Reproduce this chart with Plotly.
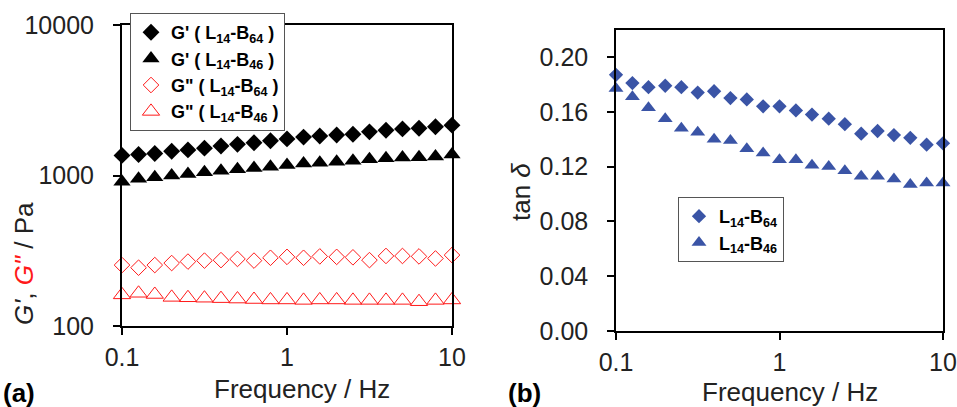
import plotly.graph_objects as go

# ---------------- data ----------------
freq = [0.1, 0.126, 0.158, 0.2, 0.251, 0.316, 0.398, 0.501, 0.631, 0.794, 1.0,
        1.26, 1.58, 2.0, 2.51, 3.16, 3.98, 5.01, 6.31, 7.94, 10.0]

gp_b64 = [1360, 1380, 1400, 1450, 1480, 1520, 1570, 1610, 1650, 1700, 1750,
          1800, 1830, 1860, 1880, 1950, 2000, 2040, 2060, 2110, 2160]
gp_b46 = [910, 950, 975, 1000, 1025, 1050, 1075, 1100, 1120, 1145, 1175,
          1200, 1215, 1235, 1255, 1280, 1300, 1315, 1320, 1335, 1380]
gpp_b64 = [254, 244, 254, 262, 268, 272, 274, 279, 272, 284, 288,
           284, 290, 288, 286, 274, 292, 292, 290, 281, 296]
gpp_b46 = [161, 165, 162, 155, 154, 153, 152, 151, 150, 149, 149,
           148, 149, 149, 148, 148, 148, 148, 145, 148, 149]

tan_b64 = [0.187, 0.181, 0.178, 0.179, 0.178, 0.174, 0.175, 0.170, 0.169, 0.164, 0.164,
           0.161, 0.158, 0.155, 0.151, 0.144, 0.146, 0.143, 0.141, 0.136, 0.137]
tan_b46 = [0.177, 0.171, 0.163, 0.155, 0.148, 0.145, 0.140, 0.139, 0.133, 0.130, 0.125,
           0.125, 0.121, 0.120, 0.117, 0.113, 0.113, 0.111, 0.107, 0.108, 0.108]

x_major = [0.1, 1, 10]
x_labels = ["0.1", "1", "10"]
x_minor = [0.1, 0.2, 0.3, 0.4, 0.5, 0.6, 0.7, 0.8, 0.9, 1, 2, 3, 4, 5, 6, 7, 8, 9, 10]
g_major = [100, 1000, 10000]
g_labels = ["100", "1000", "10000"]
g_minor = [100, 200, 300, 400, 500, 600, 700, 800, 900, 1000, 2000, 3000, 4000,
           5000, 6000, 7000, 8000, 9000, 10000]
t_major = [0.0, 0.04, 0.08, 0.12, 0.16, 0.20]
t_labels = ["0.00", "0.04", "0.08", "0.12", "0.16", "0.20"]
t_minor = [round(i * 0.008, 3) for i in range(28)]

# ---------------- layout helpers ----------------
W, H = 957, 407
def px(x):
    return x / W
def py(y):
    return 1 - y / H

FONT = "Liberation Sans, Arial, sans-serif"
RED = "#ff1a1a"
BLUE = "#3a54a6"

fig = go.Figure()

def lab(a, b):
    return a + " ( L<sub>14</sub>-B<sub>" + b + "</sub> )"

fig.add_trace(go.Scatter(x=freq, y=gp_b64, mode="markers", name=lab("G'", "64"),
                         marker=dict(symbol="diamond", size=13, color="black"),
                         xaxis="x", yaxis="y", legend="legend", cliponaxis=False))
fig.add_trace(go.Scatter(x=freq, y=gp_b46, mode="markers", name=lab("G'", "46"),
                         marker=dict(symbol="triangle-up", size=15, color="black"),
                         xaxis="x", yaxis="y", legend="legend", cliponaxis=False))
fig.add_trace(go.Scatter(x=freq, y=gpp_b64, mode="markers", name=lab('G"', "64"),
                         marker=dict(symbol="diamond-open", size=12, color=RED,
                                     line=dict(width=1, color=RED)),
                         xaxis="x", yaxis="y", legend="legend", cliponaxis=False))
fig.add_trace(go.Scatter(x=freq, y=gpp_b46, mode="markers", name=lab('G"', "46"),
                         marker=dict(symbol="triangle-up-open", size=15, color=RED,
                                     line=dict(width=1, color=RED)),
                         xaxis="x", yaxis="y", legend="legend", cliponaxis=False))

fig.add_trace(go.Scatter(x=freq, y=tan_b64, mode="markers",
                         name="L<sub>14</sub>-B<sub>64</sub>",
                         marker=dict(symbol="diamond", size=11, color=BLUE),
                         xaxis="x2", yaxis="y2", legend="legend2", cliponaxis=False))
fig.add_trace(go.Scatter(x=freq, y=tan_b46, mode="markers",
                         name="L<sub>14</sub>-B<sub>46</sub>",
                         marker=dict(symbol="triangle-up", size=13, color=BLUE),
                         xaxis="x2", yaxis="y2", legend="legend2", cliponaxis=False))

tickfont = dict(family=FONT, size=25, color="#222")

def main_axis(**kw):
    d = dict(showline=True, linecolor="black", linewidth=2, mirror=True,
             ticks="outside", ticklen=7, tickwidth=1.5, tickcolor="black",
             showgrid=False, zeroline=False, tickfont=tickfont,
             ticklabelstandoff=1, automargin=False)
    d.update(kw)
    return d

def inner_axis(**kw):
    d = dict(showline=False, ticks="inside", ticklen=6, tickwidth=1.5,
             tickcolor="black", showgrid=False, zeroline=False,
             showticklabels=False, tickmode="array", automargin=False)
    d.update(kw)
    return d

legend_font = dict(family=FONT, size=18, color="black", weight="bold")

fig.update_layout(
    width=W, height=H,
    margin=dict(l=0, r=0, t=0, b=0, autoexpand=False),
    paper_bgcolor="white", plot_bgcolor="white",
    font=dict(family=FONT, color="black"),
    xaxis=main_axis(domain=[px(122), px(452)], type="log", range=[-1, 1], anchor="y",
                    tickmode="array", tickvals=x_major, ticktext=x_labels),
    yaxis=main_axis(domain=[py(326), py(25)], type="log", range=[2, 4], anchor="x",
                    tickmode="array", tickvals=g_major, ticktext=g_labels,
                    ticklabelstandoff=14),
    xaxis2=main_axis(domain=[px(616), px(943)], type="log", range=[-1, 1], anchor="y2",
                     tickmode="array", tickvals=x_major, ticktext=x_labels, linewidth=1.5),
    yaxis2=main_axis(domain=[py(331), py(29.6)], range=[0, 0.22], anchor="x2",
                     tickmode="array", tickvals=t_major, ticktext=t_labels,
                     linewidth=1.5, ticklabelstandoff=14),
    xaxis3=inner_axis(overlaying="x", anchor="y", type="log", range=[-1, 1],
                      tickvals=x_minor),
    yaxis3=inner_axis(overlaying="y", anchor="x", type="log", range=[2, 4],
                      tickvals=g_minor),
    xaxis4=inner_axis(overlaying="x2", anchor="y2", type="log", range=[-1, 1],
                      tickvals=x_minor),
    yaxis4=inner_axis(overlaying="y2", anchor="x2", range=[0, 0.22],
                      tickvals=t_minor),
    legend=dict(x=px(130), y=py(13), xanchor="left", yanchor="top",
                bgcolor="white", bordercolor="#555", borderwidth=1,
                font=legend_font, itemwidth=30, tracegroupgap=0),
    legend2=dict(x=px(678), y=py(197), xanchor="left", yanchor="top",
                 bgcolor="white", bordercolor="#555", borderwidth=1,
                 font=legend_font, itemwidth=30, tracegroupgap=0),
    showlegend=True,
)

ann_font = dict(family=FONT, size=26, color="#222")
annotations = [
    dict(text="Frequency / Hz", x=px(302), y=py(389), showarrow=False,
         xref="paper", yref="paper", xanchor="center", yanchor="middle", font=ann_font),
    dict(text="Frequency / Hz", x=px(790), y=py(392), showarrow=False,
         xref="paper", yref="paper", xanchor="center", yanchor="middle", font=ann_font),
    dict(text="<i>G'</i>, <span style='color:" + RED + "'><i>G\"</i></span> / Pa",
         x=px(24), y=py(264), showarrow=False, textangle=-90,
         xref="paper", yref="paper", xanchor="center", yanchor="middle", font=ann_font),
    dict(text="tan <i>δ</i>", x=px(521), y=py(192), showarrow=False, textangle=-90,
         xref="paper", yref="paper", xanchor="center", yanchor="middle", font=ann_font),
    dict(text="<b>(a)</b>", x=px(1), y=py(393), showarrow=False,
         xref="paper", yref="paper", xanchor="left", yanchor="middle",
         font=dict(family=FONT, size=26, color="black")),
    dict(text="<b>(b)</b>", x=px(506), y=py(393), showarrow=False,
         xref="paper", yref="paper", xanchor="left", yanchor="middle",
         font=dict(family=FONT, size=26, color="black")),
]
fig.update_layout(annotations=annotations)

fig.write_html("out.html",
               config={"displayModeBar": False},
               post_script="document.body.style.margin='0';"
                           "document.body.style.overflow='hidden';")
